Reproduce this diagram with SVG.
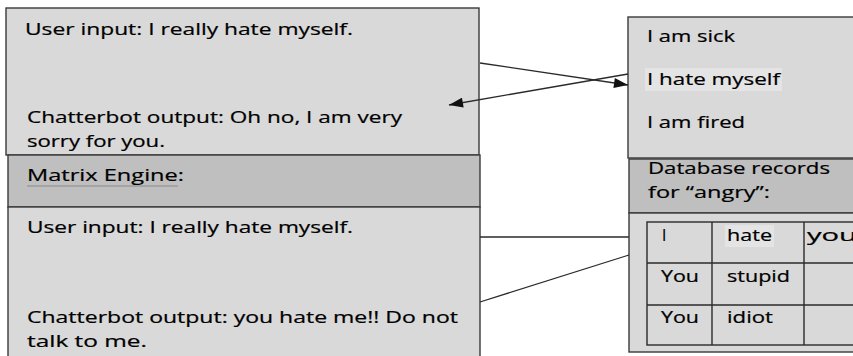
<svg xmlns="http://www.w3.org/2000/svg" width="853" height="356" viewBox="0 0 853 356">
<defs>
<style>
.box{fill:#d9d9d9;stroke:#3a3a3a;stroke-width:1.4}
.hdr{fill:#bfbfbf;stroke:#3a3a3a;stroke-width:1.4}
.cell{fill:none;stroke:#2a2a2a;stroke-width:1.4}
text{font-family:"Open Sans","Noto Sans","DejaVu Sans",sans-serif;font-size:15.5px;fill:#000;stroke:#000;stroke-width:0.2}
.con{stroke:#2a2a2a;stroke-width:1.3;fill:none}
</style>
<marker id="ah" viewBox="0 0 14 10" refX="14" refY="5" markerWidth="15" markerHeight="10" markerUnits="userSpaceOnUse" orient="auto">
<path d="M0,0 L14,5 L0,10 z" fill="#111"/>
</marker>
</defs>
<rect width="853" height="356" fill="#ffffff"/>
<g id="chat-normal">
<rect class="box" x="6" y="8" width="473" height="147"/>
<text x="25" y="35" textLength="328" lengthAdjust="spacingAndGlyphs">User input: I really hate myself.</text>
<text x="27" y="123" textLength="375" lengthAdjust="spacingAndGlyphs">Chatterbot output: Oh no, I am very</text>
<text x="27" y="147" textLength="138" lengthAdjust="spacingAndGlyphs">sorry for you.</text>
</g>
<g id="matrix-engine">
<rect class="hdr" x="8" y="155" width="472" height="52"/>
<rect class="box" x="8" y="207" width="472" height="160"/>
<text x="27" y="181" textLength="157" lengthAdjust="spacingAndGlyphs">Matrix  Engine:</text>
<line x1="27" y1="186" x2="178" y2="186" stroke="#8a8a8a" stroke-width="1.2"/>
<text x="27" y="233" textLength="326" lengthAdjust="spacingAndGlyphs">User input: I really hate myself.</text>
<text x="27" y="323" textLength="431" lengthAdjust="spacingAndGlyphs">Chatterbot output: you hate me!! Do not</text>
<text x="27" y="347" textLength="120" lengthAdjust="spacingAndGlyphs">talk to me.</text>
</g>
<g id="phrases">
<rect class="box" x="628" y="17" width="240" height="141"/>
<text x="647" y="42" textLength="88" lengthAdjust="spacingAndGlyphs">I am sick</text>
<rect x="645" y="68" width="137" height="23" fill="#e4e4e4"/>
<text x="647" y="85" textLength="133" lengthAdjust="spacingAndGlyphs">I hate myself</text>
<text x="647" y="128" textLength="98" lengthAdjust="spacingAndGlyphs">I am fired</text>
</g>
<g id="database">
<rect class="hdr" x="629" y="159" width="240" height="54"/>
<rect class="box" x="629" y="213" width="240" height="139"/>
<text x="648" y="174" textLength="182" lengthAdjust="spacingAndGlyphs">Database records</text>
<text x="648" y="198" textLength="122" lengthAdjust="spacingAndGlyphs">for “angry”:</text>
<rect class="cell" x="647" y="222" width="220" height="123"/>
<line class="cell" x1="712" y1="222" x2="712" y2="345"/>
<line class="cell" x1="804" y1="222" x2="804" y2="345"/>
<line class="cell" x1="647" y1="263" x2="867" y2="263"/>
<line class="cell" x1="647" y1="305" x2="867" y2="305"/>
<text x="662" y="241">I</text>
<rect x="725" y="225" width="49" height="22" fill="#e4e4e4"/>
<text x="727" y="241" textLength="45" lengthAdjust="spacingAndGlyphs">hate</text>
<text x="807" y="241" textLength="50" lengthAdjust="spacingAndGlyphs">you</text>
<text x="661" y="282" textLength="38" lengthAdjust="spacingAndGlyphs">You</text>
<text x="727" y="282" textLength="63" lengthAdjust="spacingAndGlyphs">stupid</text>
<text x="661" y="323" textLength="38" lengthAdjust="spacingAndGlyphs">You</text>
<text x="727" y="323" textLength="46" lengthAdjust="spacingAndGlyphs">idiot</text>
</g>
<g id="connectors">
<line class="con" x1="480" y1="63" x2="628" y2="85" marker-end="url(#ah)"/>
<line class="con" x1="628" y1="74" x2="449" y2="105" marker-end="url(#ah)"/>
<line class="con" x1="480" y1="237" x2="629" y2="237"/>
<line class="con" x1="480" y1="302" x2="629" y2="255"/>
</g>
</svg>
